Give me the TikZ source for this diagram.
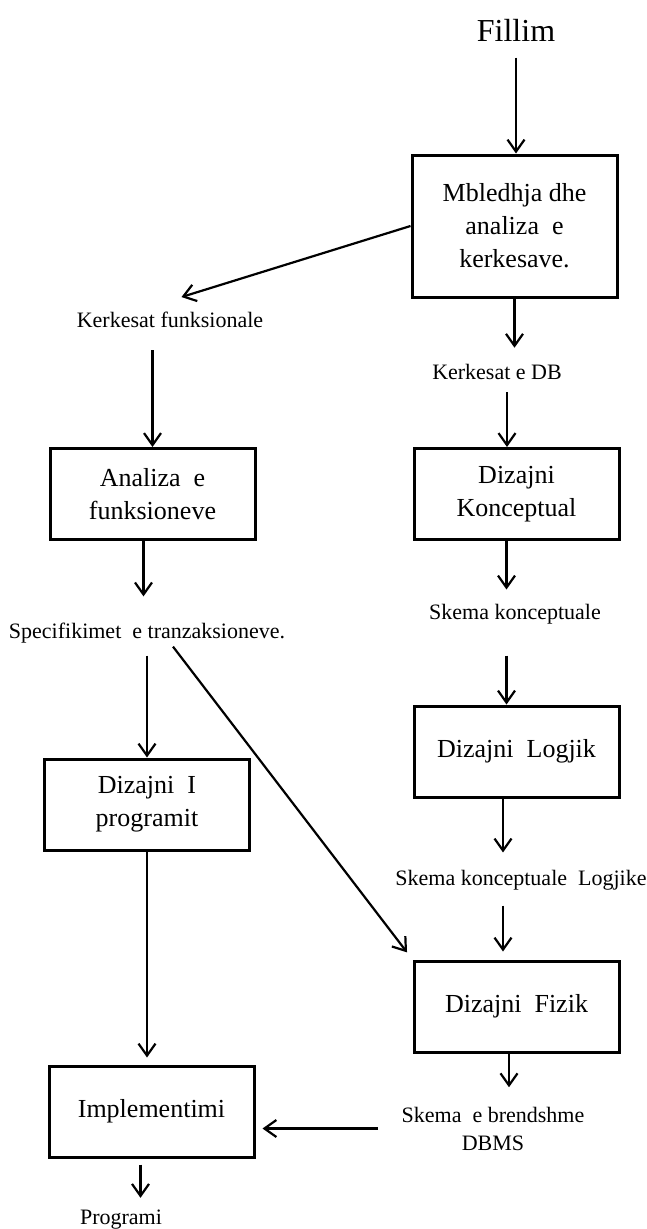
\documentclass[tikz,border=0pt]{standalone}
\usepackage{fontspec}
\setmainfont{Liberation Serif}
\usepackage{tikz}
\usetikzlibrary{arrows.meta}
\usetikzlibrary{positioning}

\begin{document}
\begin{tikzpicture}[x=1pt, y=-1pt, >={Straight Barb[length=12pt,width=17pt]},
    stage/.style={draw, line width=3pt, minimum width=205pt, minimum height=91pt,
                  align=center, font=\fontsize{26}{33}\selectfont},
    flow/.style={align=center, font=\fontsize{22}{28}\selectfont}]

        \useasboundingbox (0,0) rectangle (647,1229);

        \node[flow, font=\fontsize{32}{38}\selectfont] (fillim) at (516,30) {Fillim};

        \node[stage, minimum height=142pt] (mbledhja)   at (514.5,226)  {Mbledhja dhe\\analiza~ e\\kerkesave.};
        \node[flow]                        (kerkf)      at (170,320)    {Kerkesat funksionale};
        \node[flow]                        (kerkdb)     at (497,372)    {Kerkesat e DB};

        \node[stage]                       (analiza)    at (152.5,494)  {Analiza~ e\\funksioneve};
        \node[stage]                       (konceptual) at (516.5,494)  {Dizajni\\Konceptual};

        \node[flow]                        (specif)     at (147,633)    {Specifikimet~ e tranzaksioneve.};
        \node[flow]                        (skemak)     at (515,614)    {Skema konceptuale};

        \node[stage]                       (logjik)     at (516.5,751.5) {Dizajni~ Logjik};
        \node[stage]                       (programit)  at (147,804.5)  {Dizajni~ I\\programit};
        \node[flow]                        (skemal)     at (521,880)    {Skema konceptuale~ Logjike};

        \node[stage]                       (fizik)      at (516.5,1006.5) {Dizajni~ Fizik};
        \node[flow]                        (brendshme)  at (493,1128.5) {Skema~ e brendshme\\DBMS};
        \node[stage]                       (impl)       at (151.5,1111.5) {Implementimi};
        \node[flow]                        (programi)   at (121,1220)   {Programi};


        \path[->, line width=2.2pt]
          (fillim.south)                    edge [shorten <=13pt]                (fillim.south |- mbledhja.north)
          (mbledhja.west)                   edge [shorten >=12pt]                ([yshift=8pt]kerkf.north)
          (mbledhja.south)                  edge [shorten >=13pt]                (mbledhja.south |- kerkdb.north)

          (kerkf.south -| analiza.north)    edge [shorten <=19pt]                (analiza.north)
          ([xshift=10pt]kerkdb.south)       edge [shorten <=9pt]                 ([xshift=10pt]kerkdb.south |- konceptual.north)

          ([xshift=-9pt]analiza.south)      edge [shorten >=23pt]                ([xshift=-9pt]analiza.south |- specif.north)
          ([xshift=-10pt]konceptual.south)  edge [shorten >=11pt]                ([xshift=-10pt]konceptual.south |- skemak.north)

          (specif.south -| programit.north) edge [shorten <=9pt]                 (programit.north)
          ([xshift=26pt]specif.south)       edge [shorten >=9pt]                 (fizik.north west)
          ([xshift=-10pt]logjik.north |- skemak.south)
                                            edge [shorten <=28pt]                ([xshift=-10pt]logjik.north)

          ([xshift=-13.5pt]logjik.south)    edge [shorten >=14pt]                ([xshift=-13.5pt]logjik.south |- skemal.north)
          ([xshift=-13.5pt]fizik.north |- skemal.south)
                                            edge [shorten <=12pt, shorten >=8pt] ([xshift=-13.5pt]fizik.north)

          (programit.south)                 edge [shorten >=7pt]                 (programit.south |- impl.north)
          ([xshift=-7.5pt]fizik.south)      edge [shorten >=16pt]                ([xshift=-7.5pt]fizik.south |- brendshme.north)
          (brendshme.west)                  edge [shorten <=20pt, shorten >=7pt] (brendshme.west -| impl.east)
          ([xshift=-11pt]impl.south)        edge [shorten <=6pt, shorten >=9pt]  ([xshift=-11pt]impl.south |- programi.north);

      \end{tikzpicture}
\end{document}
